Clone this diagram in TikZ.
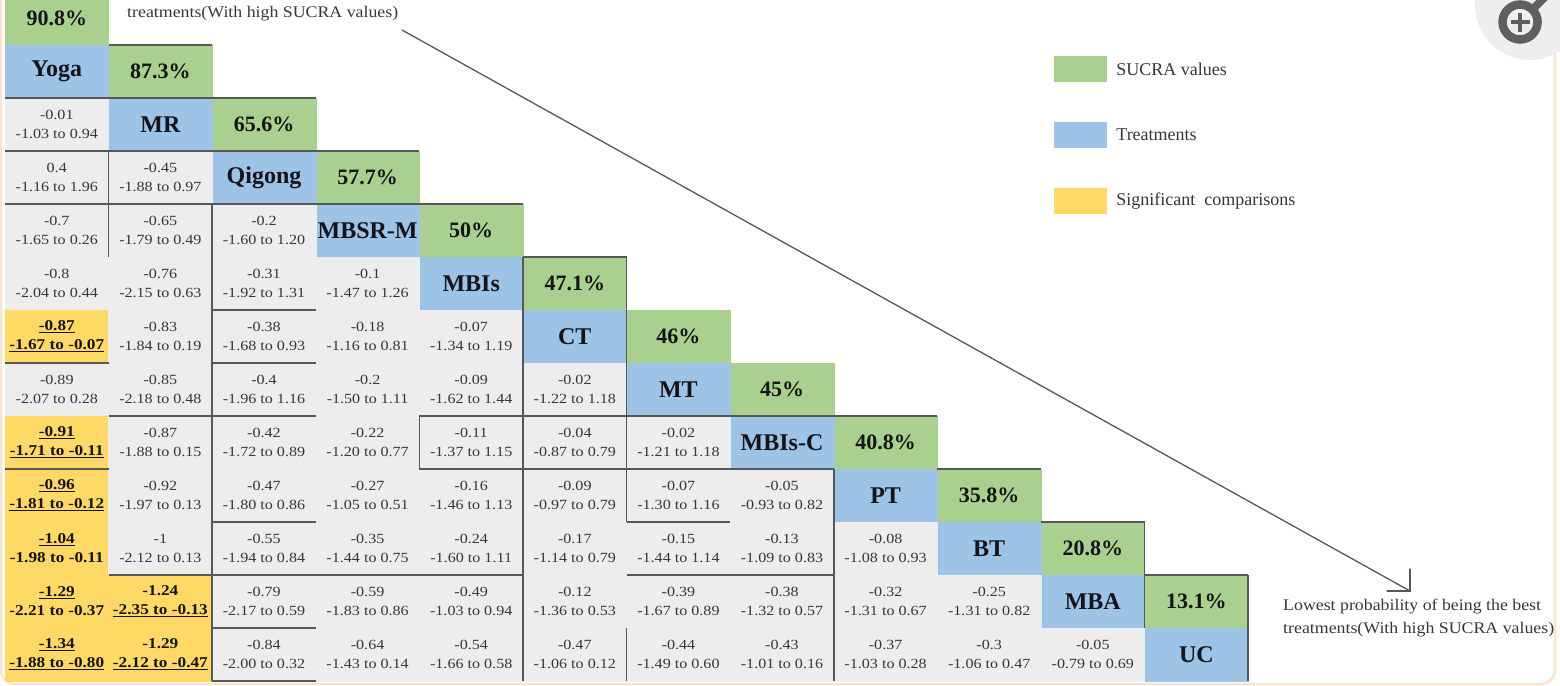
\documentclass[tikz,border=0pt]{standalone}
\usepackage{fontspec}
\setmainfont{Liberation Serif}
\newfontfamily\numeros{Liberation Serif}[FakeStretch=1.15]
\newfontfamily\notas{Liberation Serif}[FakeStretch=1.1]
\usepackage{tikz}
\usetikzlibrary{positioning}

\definecolor{verde}{RGB}{169,208,142}
\definecolor{azul}{RGB}{157,195,230}
\definecolor{amarillo}{RGB}{255,217,102}
\definecolor{gris}{RGB}{237,237,237}
\definecolor{linea}{RGB}{88,88,88}
\definecolor{textogris}{RGB}{55,55,55}
\definecolor{negro}{RGB}{20,20,25}
\definecolor{marco}{RGB}{250,228,208}
\definecolor{icono}{RGB}{95,95,95}

\begin{document}
\begin{tikzpicture}[x=103.6pt, y=-53pt,
% Estilo de las celdas
celda/.style={minimum width=103.6pt, minimum height=53pt, inner sep=0pt},
sucra/.style={celda, fill=verde, draw=verde, text=negro, font=\fontsize{22}{26}\selectfont\bfseries},
trat/.style={celda, fill=azul, draw=azul, text=negro, font=\fontsize{24}{28}\selectfont\bfseries},
comp/.style={celda, fill=gris, draw=gris, text=textogris, align=center, font=\numeros\fontsize{14}{19}\selectfont},
sig/.style={comp, fill=amarillo, draw=amarillo, text=negro, font=\numeros\fontsize{15}{19}\selectfont\bfseries},
% Estilo de los bordes
borde/.style={draw=linea, line width=1.6pt},
% Estilo de la flecha
flecha/.style={draw=linea, line width=1.3pt, line cap=round},
% Estilo de la leyenda
caja/.style={minimum width=53pt, minimum height=26pt, inner sep=0pt},
leyenda/.style={font=\fontsize{18}{22}\selectfont, text=textogris, inner sep=0pt},
nota/.style={font=\notas\fontsize{16.2}{23}\selectfont, text=textogris, inner sep=0pt, align=left},
]
\useasboundingbox (-0.0483,-0.8491) rectangle (15.0097,12.0943);
\fill[white] (-0.0483,-0.8491) rectangle (15.0097,12.0943);
\draw[marco, line width=2.5pt, rounded corners=14pt] (-0.0386,-1.3) rectangle (14.961,12.057);

% Lupa
\fill[gray!13] (14.720,-0.755) circle (55pt);
\coordinate (lupa) at (14.624,-0.434);
\draw[icono, line width=8.5pt] (lupa) circle (17.5pt);
\draw[icono, line width=8pt] ([xshift=13pt,yshift=13pt]lupa) -- ([xshift=34pt,yshift=34pt]lupa);
\draw[icono, line width=4pt] ([xshift=-9.5pt]lupa) -- ([xshift=9.5pt]lupa);
\draw[icono, line width=4pt] ([yshift=-9.5pt]lupa) -- ([yshift=9.5pt]lupa);

% Nodos
\foreach \valor [count=\i from 0] in {90.8,87.3,65.6,57.7,50,47.1,46,45,40.8,35.8,20.8,13.1}
  \node[sucra] (s\i) at (\i+0.5,\i-0.5) {\valor\%};
\foreach \nombre [count=\i from 0] in {Yoga,MR,Qigong,MBSR-M,MBIs,CT,MT,MBIs-C,PT,BT,MBA,UC}
  \node[trat] (t\i) at (\i+0.5,\i+0.5) {\nombre};

% Comparaciones
\foreach \fila [count=\nfila from 2] in {
  {-0.01/-1.03 to 0.94/comp},
  {0.4/-1.16 to 1.96/comp, -0.45/-1.88 to 0.97/comp},
  {-0.7/-1.65 to 0.26/comp, -0.65/-1.79 to 0.49/comp, -0.2/-1.60 to 1.20/comp},
  {-0.8/-2.04 to 0.44/comp, -0.76/-2.15 to 0.63/comp, -0.31/-1.92 to 1.31/comp, -0.1/-1.47 to 1.26/comp},
  {\underline{-0.87}/\underline{-1.67 to -0.07}/sig, -0.83/-1.84 to 0.19/comp, -0.38/-1.68 to 0.93/comp, -0.18/-1.16 to 0.81/comp, -0.07/-1.34 to 1.19/comp},
  {-0.89/-2.07 to 0.28/comp, -0.85/-2.18 to 0.48/comp, -0.4/-1.96 to 1.16/comp, -0.2/-1.50 to 1.11/comp, -0.09/-1.62 to 1.44/comp, -0.02/-1.22 to 1.18/comp},
  {\underline{-0.91}/\underline{-1.71 to -0.11}/sig, -0.87/-1.88 to 0.15/comp, -0.42/-1.72 to 0.89/comp, -0.22/-1.20 to 0.77/comp, -0.11/-1.37 to 1.15/comp, -0.04/-0.87 to 0.79/comp, -0.02/-1.21 to 1.18/comp},
  {\underline{-0.96}/\underline{-1.81 to -0.12}/sig, -0.92/-1.97 to 0.13/comp, -0.47/-1.80 to 0.86/comp, -0.27/-1.05 to 0.51/comp, -0.16/-1.46 to 1.13/comp, -0.09/-0.97 to 0.79/comp, -0.07/-1.30 to 1.16/comp, -0.05/-0.93 to 0.82/comp},
  {\underline{-1.04}/-1.98 to -0.11/sig, -1/-2.12 to 0.13/comp, -0.55/-1.94 to 0.84/comp, -0.35/-1.44 to 0.75/comp, -0.24/-1.60 to 1.11/comp, -0.17/-1.14 to 0.79/comp, -0.15/-1.44 to 1.14/comp, -0.13/-1.09 to 0.83/comp, -0.08/-1.08 to 0.93/comp},
  {\underline{-1.29}/-2.21 to -0.37/sig, -1.24/\underline{-2.35 to -0.13}/sig, -0.79/-2.17 to 0.59/comp, -0.59/-1.83 to 0.86/comp, -0.49/-1.03 to 0.94/comp, -0.12/-1.36 to 0.53/comp, -0.39/-1.67 to 0.89/comp, -0.38/-1.32 to 0.57/comp, -0.32/-1.31 to 0.67/comp, -0.25/-1.31 to 0.82/comp},
  {\underline{-1.34}/\underline{-1.88 to -0.80}/sig, -1.29/\underline{-2.12 to -0.47}/sig, -0.84/-2.00 to 0.32/comp, -0.64/-1.43 to 0.14/comp, -0.54/-1.66 to 0.58/comp, -0.47/-1.06 to 0.12/comp, -0.44/-1.49 to 0.60/comp, -0.43/-1.01 to 0.16/comp, -0.37/-1.03 to 0.28/comp, -0.3/-1.06 to 0.47/comp, -0.05/-0.79 to 0.69/comp}}
  \foreach \est/\ic/\tipo [count=\ncol from 0] in \fila
    \node[\tipo] (c-\nfila-\ncol) at (\ncol+0.5,\nfila-0.5) {\est\\\ic};

% Bordes
\foreach \v/\desde/\hasta in {0/1/2, 1/0/3, 2/0/4, 3/0/5, 4/5/6, 5/2/3, 6/0/1, 6/2/3, 7/1/3, 7/4/9, 8/0/1, 8/4/8, 8/9/10,
  9/2/3, 9/6/7, 9/10/11, 10/1/5, 10/6/8, 10/11/12, 11/2/3, 12/2/3}
  \draw[borde] (\desde,\v) -- (\hasta,\v);
\foreach \cc/\desde/\hasta in {1/2/4, 2/3/12, 4/7/8, 5/4/12, 6/4/9, 6/11/12, 8/8/12, 11/9/11, 12/10/12}
  \draw[borde] (\cc,\desde) -- (\cc,\hasta);

% Leyenda
\node[caja, fill=verde] (ley1) at (10.381,0.453) {};
\node[caja, fill=azul] (ley2) at (10.381,1.689) {};
\node[caja, fill=amarillo] (ley3) at (10.381,2.943) {};
\node[leyenda, right=9pt of ley1] (ley1-txt) {SUCRA values};
\node[leyenda, right=9pt of ley2] (ley2-txt) {Treatments};
\node[leyenda, right=9pt of ley3] (ley3-txt) {Significant\ \ comparisons};

% Textos
\node[nota, anchor=west] (nota-sup) at (1.178,-0.585) {treatments(With high SUCRA values)};
\node[nota, anchor=west] (nota-inf) at (12.336,10.821) {Lowest probability of being the best\\treatments(With high SUCRA values)};

% Flecha
\coordinate (inicio) at (3.832,-0.283);
\coordinate (fin) at (13.562,10.302);
\draw[flecha] (inicio) -- (fin);
\draw[flecha] ([yshift=22pt]fin) -- (fin) -- ([xshift=-23pt]fin);
\end{tikzpicture}
\end{document}
